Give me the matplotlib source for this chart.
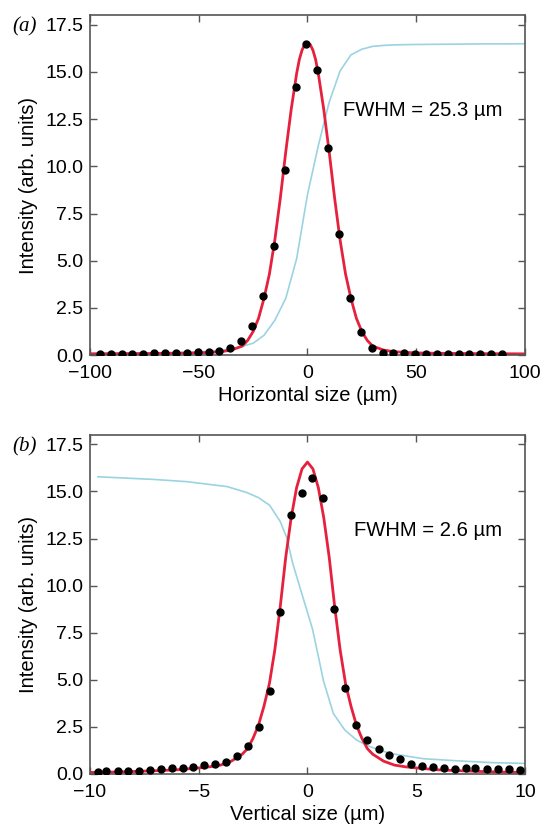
import matplotlib
matplotlib.use("Agg")
import matplotlib.pyplot as plt

plt.rcParams['font.family'] = ['Liberation Sans', 'DejaVu Sans']
plt.rcParams['axes.unicode_minus'] = True

# ---- (a) horizontal scan ----
h_dot_x = [-95.5, -90.5, -85.5, -80.5, -75.5, -70.5, -65.5, -60.5, -55.5, -50.5,
           -45.5, -40.5, -35.5, -30.5, -25.5, -20.5, -15.5, -10.5, -5.5, -0.5,
           4.5, 9.5, 14.5, 19.5, 24.5, 29.5, 34.5, 39.5, 44.5, 49.5,
           54.5, 59.5, 64.5, 69.5, 74.5, 79.5, 84.5, 89.5]
h_dot_y = [0.07, 0.06, 0.06, 0.07, 0.07, 0.09, 0.10, 0.12, 0.14, 0.18,
           0.19, 0.23, 0.39, 0.77, 1.55, 3.13, 5.8, 9.8, 14.2, 16.5,
           15.08, 10.95, 6.4, 3.05, 1.25, 0.4, 0.1, 0.09, 0.09, 0.07,
           0.07, 0.07, 0.07, 0.07, 0.07, 0.07, 0.07, 0.07]

h_fit_x = [-100, -80, -60, -50, -40, -35, -30, -27.5, -25, -22.5, -20, -17.5, -15,
           -12.5, -10, -7.5, -5, -3.75, -2.5, -1.25, 0, 1.25, 2.5, 3.75, 5, 7.5,
           10, 12.5, 15, 17.5, 20, 22.5, 25, 27.5, 30, 35, 40, 50, 60, 80, 100]
h_fit_y = [0.07, 0.08, 0.10, 0.12, 0.18, 0.27, 0.48, 0.78, 1.25, 1.95, 3.0, 4.3, 6.1,
           8.3, 10.75, 13.0, 14.9, 15.65, 16.15, 16.45, 16.55, 16.45, 16.15, 15.65, 14.9, 13.0,
           10.75, 8.3, 6.1, 4.3, 3.0, 1.95, 1.25, 0.78, 0.48, 0.27, 0.18, 0.12, 0.10, 0.08, 0.07]

h_raw_x = [-100, -95, -90, -85, -80, -75, -70, -65, -60, -55, -50, -45, -40, -35,
           -30, -25, -20, -15, -10, -5, 0, 5, 10, 15, 20, 25, 30, 35, 40, 50,
           60, 70, 80, 90, 100]
h_raw_y = [0.10, 0.10, 0.11, 0.11, 0.12, 0.12, 0.13, 0.14, 0.15, 0.16, 0.18, 0.21, 0.26, 0.34,
           0.47, 0.63, 1.05, 1.85, 3.0, 5.1, 8.5, 11.1, 13.4, 15.05, 15.9, 16.2, 16.35, 16.4, 16.43, 16.45,
           16.46, 16.47, 16.48, 16.48, 16.49]

# ---- (b) vertical scan ----
v_dot_x = [-9.63, -9.26, -8.73, -8.24, -7.73, -7.23, -6.72, -6.22, -5.72, -5.26,
           -4.74, -4.24, -3.73, -3.24, -2.74, -2.23, -1.72, -1.25, -0.78, -0.25,
           0.22, 0.72, 1.2, 1.72, 2.24, 2.76, 3.27, 3.76, 4.25, 4.76,
           5.26, 5.75, 6.26, 6.77, 7.27, 7.72, 8.25, 8.77, 9.26, 9.76]
v_dot_y = [0.12, 0.16, 0.14, 0.14, 0.18, 0.21, 0.25, 0.3, 0.3, 0.37,
           0.49, 0.51, 0.63, 0.93, 1.48, 2.49, 4.43, 8.59, 13.77, 14.9,
           15.73, 14.67, 8.77, 4.59, 2.59, 1.78, 1.32, 0.99, 0.78, 0.55,
           0.42, 0.39, 0.34, 0.28, 0.3, 0.3, 0.28, 0.28, 0.24, 0.2]

v_fit_x = [-10, -9, -8, -7, -6, -5, -4.5, -4, -3.5, -3, -2.75, -2.5, -2.25, -2, -1.75,
           -1.5, -1.25, -1, -0.75, -0.5, -0.25, 0, 0.25, 0.5, 0.75, 1, 1.25, 1.5, 1.75,
           2, 2.25, 2.5, 2.75, 3, 3.5, 4, 4.5, 5, 6, 7, 8, 9, 10]
v_fit_y = [0.08, 0.10, 0.13, 0.17, 0.22, 0.32, 0.38, 0.47, 0.68, 1.05, 1.35, 1.9, 2.6, 3.6, 4.8,
           6.6, 8.9, 11.5, 13.6, 15.2, 16.2, 16.56, 16.2, 15.2, 13.6, 11.5, 8.9, 6.6, 4.8,
           3.6, 2.6, 1.9, 1.35, 1.05, 0.68, 0.47, 0.38, 0.32, 0.22, 0.17, 0.13, 0.10, 0.08]

v_raw_x = [-9.63, -7.07, -5.54, -3.7, -2.78, -2.25, -1.74, -1.25, -0.94, -0.69, -0.24,
           0.23, 0.54, 0.73, 1.19, 1.72, 2.26, 2.8, 3.79, 5.33, 6.86, 8.5, 10]
v_raw_y = [15.78, 15.64, 15.52, 15.26, 14.94, 14.67, 14.27, 13.4, 12.5, 11.23, 9.5,
           7.7, 6.03, 4.97, 3.21, 2.33, 1.8, 1.48, 1.09, 0.81, 0.7, 0.6, 0.56]

y_ticks = [0, 2.5, 5, 7.5, 10, 12.5, 15, 17.5]

RED = '#e5213d'
CYAN = '#9bd3e1'
FS = 14

fig = plt.figure(figsize=(5.44, 8.26), dpi=100)
ax_a = fig.add_axes([0.1654, 0.570, 0.7996, 0.4116])
ax_b = fig.add_axes([0.1654, 0.063, 0.7996, 0.4104])

panels = [
    (ax_a, h_raw_x, h_raw_y, h_fit_x, h_fit_y, h_dot_x, h_dot_y,
     (-100, 100), [-100, -50, 0, 50, 100], 'Horizontal size (µm)',
     'FWHM = 25.3 µm', 16.2, '(a)'),
    (ax_b, v_raw_x, v_raw_y, v_fit_x, v_fit_y, v_dot_x, v_dot_y,
     (-10, 10), [-10, -5, 0, 5, 10], 'Vertical size (µm)',
     'FWHM = 2.6 µm', 2.12, '(b)'),
]

for ax, rx, ry, fx, fy, dx, dy, xlim, xticks, xlabel, note, note_x, tag in panels:
    ax.plot(rx, ry, color=CYAN, lw=1.2, zorder=1)
    ax.plot(fx, fy, color=RED, lw=2.0, zorder=2)
    ax.plot(dx, dy, 'o', color='black', ms=5, zorder=3)
    ax.set_xlim(*xlim)
    ax.set_ylim(0, 18)
    ax.set_xticks(xticks)
    ax.set_yticks(y_ticks)
    ax.set_yticklabels([f'{t:.1f}' for t in y_ticks])
    ax.tick_params(direction='in', top=True, right=True, length=5, width=1,
                   color='#555555', labelsize=FS)
    ax.tick_params(axis='x', pad=7)
    ax.tick_params(axis='y', pad=5)
    for s in ax.spines.values():
        s.set_color('#555555')
        s.set_linewidth(1.2)
    ax.set_xlabel(xlabel, fontsize=14.5, labelpad=3)
    ax.set_ylabel('Intensity (arb. units)', fontsize=14.5, labelpad=5)
    ax.text(note_x, 12.95, note, fontsize=14.6, va='center', ha='left')
    ax.text(-0.178, 0.965, tag, transform=ax.transAxes, fontsize=15,
            family=['Liberation Serif', 'DejaVu Serif'], style='italic',
            va='center', ha='left')

fig.savefig('out.png', dpi=100)
